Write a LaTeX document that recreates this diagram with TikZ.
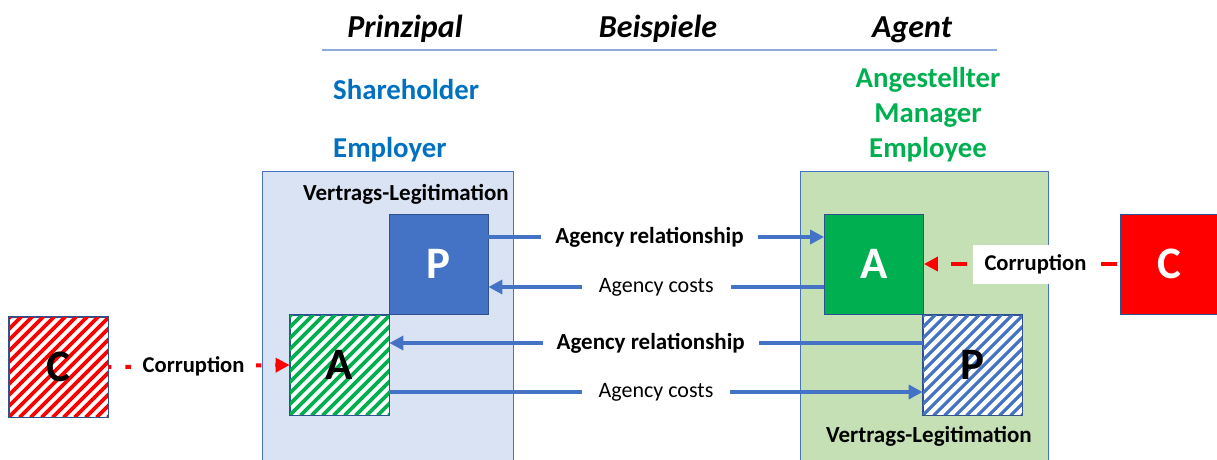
\documentclass[tikz,border=0pt]{standalone}
\usepackage{fontspec}
\setmainfont{Carlito}
\usetikzlibrary{arrows.meta}
\definecolor{myblue}{RGB}{68,114,196}
\definecolor{edgeblue}{RGB}{47,82,143}
\definecolor{lblue}{RGB}{218,227,243}
\definecolor{lgreen}{RGB}{197,224,180}
\definecolor{mygreen}{RGB}{0,176,80}
\definecolor{txtblue}{RGB}{0,112,192}
\definecolor{hline}{RGB}{143,170,220}
\definecolor{myred}{RGB}{255,0,0}
\tikzset{
  bigbox/.style={draw=myblue, line width=0.8, inner sep=0, anchor=north west, minimum width=#1, minimum height=300},
  sq/.style={minimum width=99, minimum height=100, inner sep=0, draw=edgeblue, line width=0.8},
  big/.style={font=\fontsize{45}{50}\selectfont\bfseries, inner sep=0},
  head/.style={font=\fontsize{32}{36}\selectfont\bfseries\itshape, anchor=base, inner sep=0},
  ex/.style={font=\fontsize{28.8}{32}\selectfont\bfseries, anchor=base, inner sep=0},
  lbl/.style={font=\fontsize{23}{27}\selectfont\bfseries, anchor=base, inner sep=0},
  barr/.style={draw=myblue, line width=4, -{Triangle[length=14pt,width=14pt]}},
  rarr/.style={draw=myred, line width=4, dash pattern=on 16pt off 14pt, -{Triangle[length=14pt,width=14pt]}},
  tag/.style={fill=white, inner xsep=14, inner ysep=5, font=\fontsize{22}{26}\selectfont, text=black},
  btag/.style={tag, font=\fontsize{23}{27}\selectfont\bfseries},
  hatchline/.style={line width=3.8, draw=#1}
}
\begin{document}
\begin{tikzpicture}[x=1pt,y=-1pt]
\useasboundingbox (0,0) rectangle (1217,459);
% header
\node[head] (hp) at (405,37) {Prinzipal};
\node[head] (hb) at (658,37) {Beispiele};
\node[head] (ha) at (912,37) {Agent};
\coordinate (l1) at (322,50);
\coordinate (l2) at (997,50);
\draw[hline, line width=1.5] (l1) -- (l2);
\node[ex, text=txtblue, anchor=base west] (sh) at (333,99) {Shareholder};
\node[ex, text=txtblue, anchor=base west] (em) at (333,157) {Employer};
\node[ex, text=mygreen] (an) at (928,87) {Angestellter};
\node[ex, text=mygreen] (ma) at (928,122) {Manager};
\node[ex, text=mygreen] (ee) at (928,157) {Employee};
% big boxes
\node[bigbox=251, fill=lblue] (left) at (262,171) {};
\node[bigbox=248, fill=lgreen] (right) at (800,171) {};
\node[lbl] (vl1) at (406,200) {Vertrags-Legitimation};
\node[lbl] (vl2) at (929,442) {Vertrags-Legitimation};
% solid squares
\node[sq, fill=myblue] (P1) at (438.5,264) {};
\node[big, text=white] at (P1) {P};
\node[sq, fill=mygreen] (A2) at (874,264) {};
\node[big, text=white] at (A2) {A};
\node[sq, fill=myred] (C2) at (1169.5,264) {};
\node[big, text=white] at (C2) {C};
% hatched squares
\node[sq, fill=white] (A1) at (339.5,365) {};
\begin{scope}
  \clip (A1.south west) rectangle (A1.north east);
  \foreach \t in {-121,-110,...,110} \draw[hatchline=mygreen] ([xshift=\t]A1.south west) -- ++(112,-112);
\end{scope}
\draw[edgeblue, line width=0.8] (A1.south west) rectangle (A1.north east);
\node[big] at (A1) {A};
\node[sq, fill=white] (P2) at (972.5,365) {};
\begin{scope}
  \clip (P2.south west) rectangle (P2.north east);
  \foreach \t in {-121,-110,...,110} \draw[hatchline=myblue, line width=3.2] ([xshift=\t]P2.south west) -- ++(112,-112);
\end{scope}
\draw[edgeblue, line width=0.8] (P2.south west) rectangle (P2.north east);
\node[big] at (P2) {P};
\node[sq, fill=white] (C1) at (58.5,367) {};
\begin{scope}
  \clip (C1.south west) rectangle (C1.north east);
  \foreach \t in {-121,-110,...,110} \draw[hatchline=myred] ([xshift=\t]C1.south west) -- ++(112,-112);
\end{scope}
\draw[edgeblue, line width=0.8] (C1.south west) rectangle (C1.north east);
\node[big] at (C1) {C};
% connectors
\draw[barr] ([yshift=27]P1.east) -- node[btag, pos=0.48] (t1) {Agency relationship} ([yshift=27]A2.west);
\draw[barr] ([yshift=-23]A2.west) -- node[tag, inner xsep=17] (t2) {Agency costs} ([yshift=-23]P1.east);
\draw[barr] ([yshift=22]P2.west) -- node[btag, pos=0.51] (t3) {Agency relationship} ([yshift=22]A1.east);
\draw[barr] ([yshift=-27]A1.east) -- node[tag, inner xsep=17] (t4) {Agency costs} ([yshift=-27]P2.west);
\draw[rarr, dash phase=27pt] (C2.west) -- node[pos=0.43, btag, inner xsep=12, minimum height=39, font=\fontsize{22.6}{26}\selectfont\bfseries] (t5) {Corruption} (A2.east);
\draw[rarr, dash phase=13pt] (C1.east) -- node[pos=0.47, btag, inner xsep=12, font=\fontsize{22.6}{26}\selectfont\bfseries] (t6) {Corruption} (A1.west);
\end{tikzpicture}
\end{document}
